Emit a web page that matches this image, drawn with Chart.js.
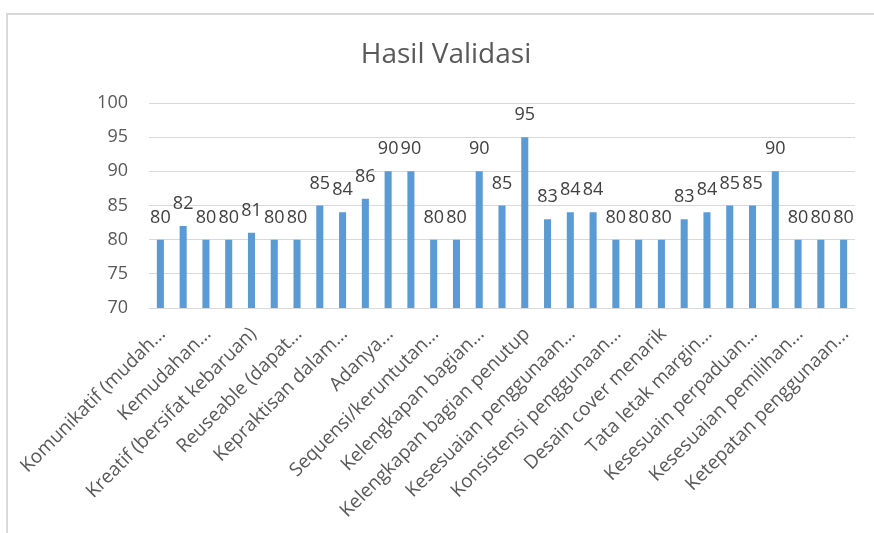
<!DOCTYPE html>
<html>
<head>
<meta charset="utf-8">
<script src="https://cdn.jsdelivr.net/npm/chart.js@4/dist/chart.umd.min.js"></script>
<style>
  html, body { margin: 0; padding: 0; background: #fff; }
  #wrap { position: relative; width: 874px; height: 533px; }
  #frame { position: absolute; left: 6px; top: 13px; right: 0; bottom: 0;
           border-left: 2px solid #d9d9d9; border-top: 2px solid #d9d9d9; }
  canvas { position: absolute; left: 0; top: 0; }
</style>
</head>
<body>
<div id="wrap">
  <div id="frame"></div>
  <canvas id="validasi" width="874" height="533"></canvas>
</div>
<script>
// only every other category name is readable in the picture
const categories = [
  'Komunikatif (mudah...', '', 'Kemudahan...', '', 'Kreatif (bersifat kebaruan)', '',
  'Reuseable (dapat...', '', 'Kepraktisan dalam...', '', 'Adanya...', '',
  'Sequensi/keruntutan...', '', 'Kelengkapan bagian...', '', 'Kelengkapan bagian penutup', '',
  'Kesesuaian penggunaan...', '', 'Konsistensi penggunaan...', '', 'Desain cover menarik', '',
  'Tata letak margin...', '', 'Kesesuain perpaduan...', '', 'Kesesuaian pemilihan...', '',
  'Ketepatan penggunaan...'
];
const nilai = [80, 82, 80, 80, 81, 80, 80, 85, 84, 86, 90, 90, 80, 80, 90, 85,
               95, 83, 84, 84, 80, 80, 80, 83, 84, 85, 85, 90, 80, 80, 80];
const yMin = 70, yMax = 100, yStep = 5;
const judul = 'Hasil Validasi';

// value labels above the bars + the title (centred on the frame, not the plot)
const extras = {
  id: 'extras',
  afterDatasetsDraw(chart) {
    const c = chart.ctx;
    const meta = chart.getDatasetMeta(0);
    c.save();
    c.font = '18px "Open Sans"';
    c.fillStyle = '#404040';
    c.textAlign = 'center';
    c.textBaseline = 'alphabetic';
    meta.data.forEach((bar, i) => {
      c.fillText(String(nilai[i]), bar.x, bar.y - 17);
    });
    c.font = '28px "Open Sans"';
    c.fillStyle = '#595959';
    c.fillText(judul, 446, 63);
    c.restore();
  }
};

const ctx = document.getElementById('validasi').getContext('2d');
const chart = new Chart(ctx, {
  type: 'bar',
  data: {
    labels: categories,
    datasets: [{
      data: nilai,
      backgroundColor: '#5b9bd5',
      barPercentage: 0.31,
      categoryPercentage: 1.0
    }]
  },
  plugins: [extras],
  options: {
    responsive: false,
    animation: false,
    layout: { padding: { left: 0, right: 19, top: 103, bottom: 0 } },
    plugins: {
      legend: { display: false },
      tooltip: { enabled: false },
      title: { display: false }
    },
    scales: {
      x: {
        grid: { display: false },
        border: { display: false },
        ticks: {
          autoSkip: false,
          minRotation: 45,
          maxRotation: 45,
          padding: 7,
          labelOffset: 2,
          color: '#595959',
          font: { family: 'Open Sans', size: 19 }
        },
        afterFit(s) { s.height = 225; }
      },
      y: {
        min: yMin,
        max: yMax,
        grid: { color: '#d9d9d9', lineWidth: 1, drawTicks: false },
        border: { display: false },
        ticks: {
          stepSize: yStep,
          padding: 21,
          color: '#595959',
          font: { family: 'Open Sans', size: 18 }
        },
        afterFit(s) { s.width = 149; }
      }
    }
  }
});
</script>
</body>
</html>
